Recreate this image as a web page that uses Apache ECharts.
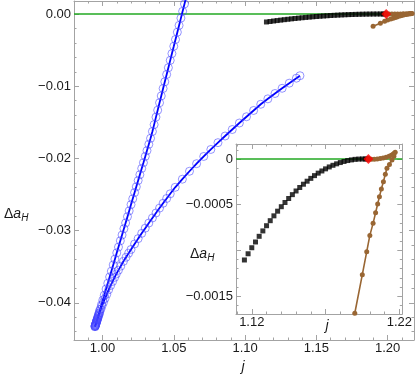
<!DOCTYPE html>
<html><head><meta charset="utf-8">
<script src="https://cdn.jsdelivr.net/npm/echarts@6/dist/echarts.min.js"></script>
<style>html,body{margin:0;padding:0;background:#fff}#c{width:415px;height:375px}</style>
</head><body><div id="c"></div>
<script>
// ---------------- data ----------------
const steepJ = [0.9947,0.9948,0.9949,0.9950,0.9952,0.9954,0.9956,0.9958,0.9960,0.9962,0.9965,0.9968,0.9971,0.9975,0.9979,0.9983,0.9992,1.0002,1.0012,1.0025,1.0037,1.0050,1.0062,1.0075,1.0087,1.0100,1.0112,1.0125,1.0137,1.0150,1.0162,1.0175,1.0187,1.0200,1.0212,1.0225,1.0237,1.0250,1.0262,1.0275,1.0287,1.0300,1.0312,1.0325,1.0337,1.0350,1.0362,1.0375,1.0387,1.0400,1.0412,1.0425,1.0437,1.0450,1.0462,1.0475,1.0487,1.0500,1.0512,1.0525,1.0537,1.0550,1.0562,1.0575,1.0587];
const steepY = [-0.04330,-0.04323,-0.04317,-0.04310,-0.04297,-0.04283,-0.04270,-0.04257,-0.04243,-0.04230,-0.04210,-0.04190,-0.04170,-0.04143,-0.04116,-0.04090,-0.04029,-0.03963,-0.03896,-0.03809,-0.03729,-0.03642,-0.03562,-0.03475,-0.03395,-0.03308,-0.03228,-0.03141,-0.03061,-0.02974,-0.02894,-0.02807,-0.02727,-0.02640,-0.02560,-0.02473,-0.02393,-0.02306,-0.02226,-0.02139,-0.02059,-0.01972,-0.01892,-0.01805,-0.01722,-0.01627,-0.01532,-0.01428,-0.01332,-0.01229,-0.01135,-0.01032,-0.00939,-0.00837,-0.00744,-0.00642,-0.00548,-0.00447,-0.00353,-0.00252,-0.00158,-0.00057,0.00037,0.00139,0.00232];
const lowerJ = [0.9947,0.9949,0.9951,0.9953,0.9955,0.9957,0.9959,0.9962,0.9965,0.9968,0.9972,0.9976,0.9980,0.9989,0.9997,1.0007,1.0018,1.0030,1.0043,1.0057,1.0071,1.0085,1.0097,1.0112,1.0128,1.0147,1.0165,1.0183,1.0200,1.0225,1.0250,1.0275,1.0300,1.0325,1.0350,1.0375,1.0400,1.0425,1.0450,1.0475,1.0510,1.0560,1.0610,1.0660,1.0710,1.0760,1.0810,1.0860,1.0910,1.0960,1.1010,1.1060,1.1110,1.1160,1.1210,1.1260,1.1310,1.1360,1.1385];
const lowerY = [-0.04330,-0.04318,-0.04307,-0.04295,-0.04284,-0.04272,-0.04260,-0.04243,-0.04226,-0.04208,-0.04185,-0.04162,-0.04139,-0.04087,-0.04040,-0.03992,-0.03939,-0.03882,-0.03819,-0.03760,-0.03704,-0.03648,-0.03600,-0.03548,-0.03492,-0.03425,-0.03369,-0.03313,-0.03261,-0.03185,-0.03111,-0.03038,-0.02966,-0.02895,-0.02825,-0.02756,-0.02688,-0.02621,-0.02555,-0.02490,-0.02400,-0.02288,-0.02178,-0.02073,-0.01973,-0.01876,-0.01782,-0.01690,-0.01600,-0.01510,-0.01423,-0.01336,-0.01250,-0.01175,-0.01101,-0.01029,-0.00958,-0.00889,-0.00855];
const blackJ = [1.1150,1.1175,1.1200,1.1225,1.1250,1.1275,1.1300,1.1325,1.1350,1.1375,1.1400,1.1425,1.1450,1.1475,1.1500,1.1525,1.1550,1.1575,1.1600,1.1625,1.1650,1.1675,1.1700,1.1725,1.1750,1.1775,1.1800,1.1825,1.1850,1.1875,1.1900,1.1925,1.1950,1.1970,1.1985];
const blackY = [-0.001105,-0.001037,-0.000971,-0.000908,-0.000846,-0.000787,-0.000730,-0.000675,-0.000622,-0.000571,-0.000522,-0.000476,-0.000432,-0.000390,-0.000350,-0.000312,-0.000276,-0.000243,-0.000212,-0.000182,-0.000155,-0.000131,-0.000108,-0.000087,-0.000069,-0.000053,-0.000039,-0.000027,-0.000017,-0.000010,-0.000004,-0.000001,0,0,0];
const brownJ = [1.1990,1.2010,1.2030,1.2050,1.2070,1.2090,1.2110,1.2130,1.2145,1.2157,1.2165,1.2172,1.2163,1.2150,1.2133,1.2116,1.2105,1.2092,1.2078,1.2065,1.2053,1.2039,1.2022,1.2000,1.1979,1.1949,1.1898];
const brownY = [0,-0.000003,-0.000003,0,0.000004,0.00001,0.000018,0.00003,0.00004,0.000052,0.000063,0.000073,0.000030,-0.000011,-0.00006,-0.000102,-0.000167,-0.000248,-0.000328,-0.000412,-0.000492,-0.000588,-0.000704,-0.000836,-0.001014,-0.001266,-0.001688];
const redJ = [1.1990];
const redY = [0];

const mainXTicks = [1.00,1.05,1.10,1.15,1.20];
const mainYTicks = [0,-0.01,-0.02,-0.03,-0.04];
const insetXTicks = [1.12,1.17,1.22];
const insetXLabels = [1.12,1.22];
const insetYTicks = [0,-0.0005,-0.001,-0.0015];
const insetYLabels = [0,-0.0005,-0.0015];

// ---------------- layout ----------------
const MAIN = {left:74, top:1, width:340, height:339, xMin:0.98, xMax:1.2185, yMin:-0.04515, yMax:0.0018};
const INSET = {left:236, top:144, width:169, height:170, xMin:1.1093, xMax:1.2220, yMin:-0.001696, yMax:0.000164};
const FRAME = '#a3a3a3', TXT = '#1a1a1a', FONT = '"Liberation Sans", Arial, sans-serif';
const MINUS = '\u2212';

function zip(a, b) { return a.map((v, i) => [v, b[i]]); }
function steps(from, to, step, exclude) {
  const out = [], n = Math.round((to - from) / step);
  for (let i = 0; i <= n; i++) {
    const v = +(from + i * step).toFixed(7);
    if (!exclude.some(e => Math.abs(e - v) < step / 10)) out.push(v);
  }
  return out;
}
function frameAxes(grid, dim, g, majors, minors, labels, fmt, margin) {
  const sides = dim === 'x' ? ['bottom', 'top'] : ['left', 'right'];
  const min = dim === 'x' ? g.xMin : g.yMin, max = dim === 'x' ? g.xMax : g.yMax;
  const arr = [];
  sides.forEach((pos, k) => {
    arr.push({type:'value', gridIndex:grid, position:pos, min, max, scale:true,
      axisLine:{show:true, onZero:false, lineStyle:{color:FRAME, width:1}},
      splitLine:{show:false}, minorTick:{show:false},
      axisTick:{show:true, inside:true, length:5, customValues:majors, lineStyle:{color:FRAME, width:1}},
      axisLabel: k === 0 ? {show:true, customValues:labels, formatter:fmt, margin, color:TXT, fontSize:13, fontFamily:FONT} : {show:false}
    });
    arr.push({type:'value', gridIndex:grid, position:pos, min, max, scale:true,
      axisLine:{show:false, onZero:false}, splitLine:{show:false},
      axisTick:{show:true, inside:true, length:2.5, customValues:minors, lineStyle:{color:FRAME, width:1}},
      axisLabel:{show:false}
    });
  });
  return arr;
}
const fmtMainX = v => v.toFixed(2);
const fmtMainY = v => Math.abs(v) < 1e-9 ? '0.00' : (v < 0 ? MINUS : '') + Math.abs(v).toFixed(2);
const fmtInsetX = v => v.toFixed(2);
const fmtInsetY = v => Math.abs(v) < 1e-12 ? '0' : (v < 0 ? MINUS : '') + Math.abs(v).toFixed(4);

const xAxes = [].concat(
  frameAxes(0, 'x', MAIN, mainXTicks, steps(0.98, 1.21, 0.01, mainXTicks), mainXTicks, fmtMainX, 2),
  frameAxes(1, 'x', INSET, insetXTicks, steps(1.11, 1.22, 0.01, insetXTicks), insetXLabels, fmtInsetX, 2)
);
const yAxes = [].concat(
  frameAxes(0, 'y', MAIN, mainYTicks, steps(-0.044, 0, 0.002, mainYTicks), mainYTicks, fmtMainY, 3),
  frameAxes(1, 'y', INSET, insetYTicks, steps(-0.0016, 0.0001, 0.0001, insetYTicks), insetYLabels, fmtInsetY, 3)
);

const GREEN = '#22a822', BLUE = '#0000ff', CIRCLE = 'rgba(70,70,255,0.72)', BROWN = '#996633', RED = '#ff0000';

function panelSeries(ax, g, withBlue) {
  const s = [];
  s.push({type:'line', xAxisIndex:ax, yAxisIndex:ax, data:[[g.xMin, 0], [g.xMax, 0]], showSymbol:false,
    lineStyle:{color:GREEN, width:1.6}, silent:true, z:1});
  if (withBlue) {
    [[steepJ, steepY], [lowerJ, lowerY]].forEach(([j, y]) => {
      s.push({type:'line', xAxisIndex:ax, yAxisIndex:ax, data:zip(j, y), showSymbol:false,
        lineStyle:{color:BLUE, width:1.8}, silent:true, z:2});
      s.push({type:'scatter', xAxisIndex:ax, yAxisIndex:ax, data:zip(j, y), symbol:'circle', symbolSize:8,
        itemStyle:{color:'rgba(0,0,0,0)', borderColor:CIRCLE, borderWidth:1}, silent:true, z:3});
    });
  }
  s.push({type:'scatter', xAxisIndex:ax, yAxisIndex:ax, data:zip(blackJ, blackY), symbol:'rect', symbolSize:5,
    itemStyle:{color:'#000'}, silent:true, z:4});
  s.push({type:'line', xAxisIndex:ax, yAxisIndex:ax, data:zip(brownJ, brownY), showSymbol:true, showAllSymbol:true,
    symbol:'circle', symbolSize:5, itemStyle:{color:BROWN}, lineStyle:{color:BROWN, width:1.6}, silent:true, z:5});
  s.push({type:'scatter', xAxisIndex:ax, yAxisIndex:ax, data:zip(redJ, redY), symbol:'diamond', symbolSize:[10,10],
    itemStyle:{color:RED}, silent:true, z:6});
  return s;
}

function label(parts, x, y) {
  return parts.map(p => ({type:'text', x:x + p.dx, y:y + (p.dy || 0), z:20,
    style:{text:p.t, fill:TXT, fontSize:p.fs, fontFamily:FONT, fontStyle:p.it ? 'italic' : 'normal',
      textVerticalAlign:'middle', verticalAlign:'middle'}}));
}
const deltaA = [{t:'\u0394', dx:0, fs:14}, {t:'a', dx:9.3, fs:14, it:true}, {t:'H', dx:17.2, dy:4, fs:10, it:true}];

const chart = echarts.init(document.getElementById('c'), null, {renderer:'canvas'});
chart.setOption({
  animation:false,
  backgroundColor:'#fff',
  grid:[
    {left:MAIN.left, top:MAIN.top, width:MAIN.width, height:MAIN.height, containLabel:false},
    {left:INSET.left, top:INSET.top, width:INSET.width, height:INSET.height, containLabel:false,
      show:true, backgroundColor:'#fff', borderWidth:0}
  ],
  xAxis:xAxes,
  yAxis:yAxes,
  series:[].concat(panelSeries(0, MAIN, true), panelSeries(4, INSET, false)),
  graphic:[].concat(
    label(deltaA, 4, 214),
    label(deltaA, 190, 254),
    [{type:'text', x:243, y:367, z:20, style:{text:'j', fill:TXT, fontSize:14, fontFamily:FONT, fontStyle:'italic', align:'center', verticalAlign:'middle'}},
     {type:'text', x:327, y:326, z:20, style:{text:'j', fill:TXT, fontSize:14, fontFamily:FONT, fontStyle:'italic', align:'center', verticalAlign:'middle'}}]
  )
});
</script>
</body></html>
